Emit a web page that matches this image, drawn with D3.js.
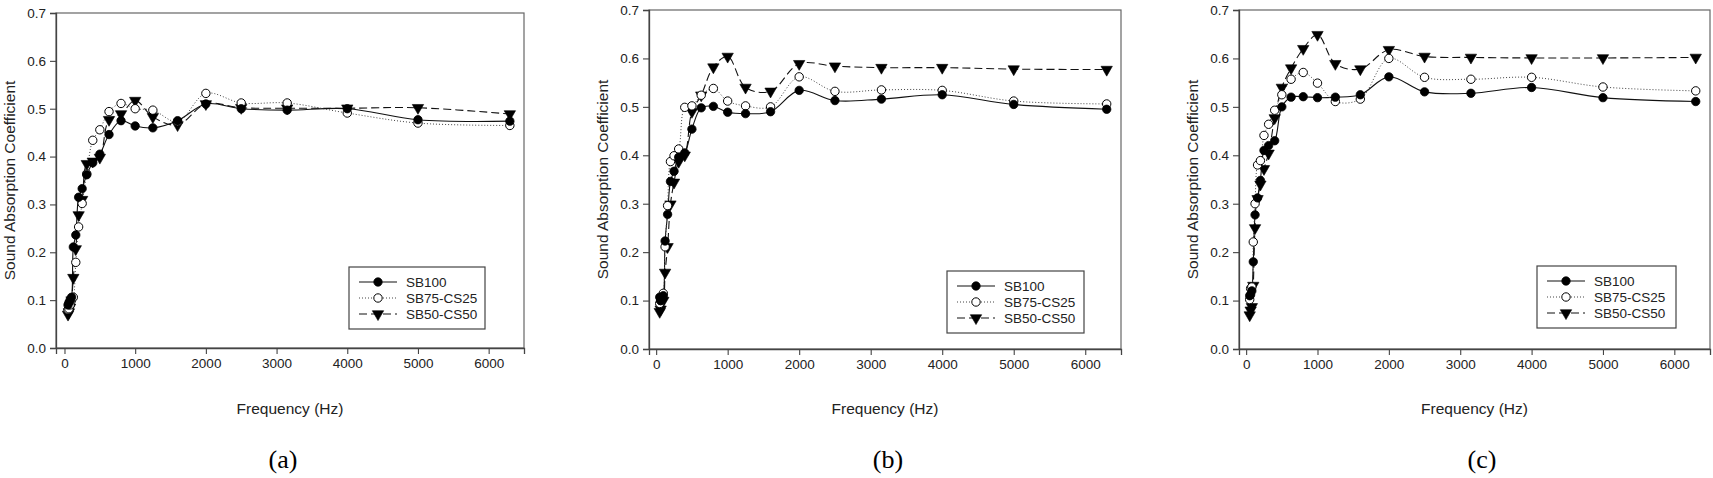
<!DOCTYPE html>
<html>
<head>
<meta charset="utf-8">
<script src="https://cdn.jsdelivr.net/npm/d3@7"></script>
<style>
  html, body { margin: 0; padding: 0; background: #fff; }
  svg { display: block; }
</style>
</head>
<body>
<svg id="chart" width="1713" height="478"></svg>
<script>
// ---------- DATA ----------
const freqs = [50, 63, 80, 100, 125, 160, 200, 250, 315, 400, 500, 630, 800, 1000, 1250, 1600, 2000, 2500, 3150, 4000, 5000, 6300];
const seriesNames = ["SB100", "SB75-CS25", "SB50-CS50"];
const panelLabels = ["(a)", "(b)", "(c)"];
const xTicks = [0, 1000, 2000, 3000, 4000, 5000, 6000];
const yTicks = [0.0, 0.1, 0.2, 0.3, 0.4, 0.5, 0.6, 0.7];
const xTitle = "Frequency (Hz)";
const yTitle = "Sound Absorption Coefficient";

// panel (a)
const a_SB100 = [0.090, 0.095, 0.100, 0.106, 0.211, 0.236, 0.315, 0.333, 0.362, 0.387, 0.405, 0.446, 0.475, 0.464, 0.460, 0.475, 0.510, 0.500, 0.497, 0.500, 0.477, 0.474];
const a_SB75  = [0.080, 0.082, 0.090, 0.100, 0.106, 0.179, 0.253, 0.302, 0.364, 0.434, 0.456, 0.494, 0.511, 0.500, 0.497, 0.473, 0.532, 0.512, 0.512, 0.491, 0.470, 0.465];
const a_SB50  = [0.070, 0.075, 0.085, 0.100, 0.147, 0.207, 0.278, 0.310, 0.385, 0.390, 0.398, 0.477, 0.489, 0.517, 0.483, 0.466, 0.510, 0.502, 0.501, 0.501, 0.502, 0.489];
// panel (b)
const b_SB100 = [0.107, 0.100, 0.105, 0.110, 0.223, 0.278, 0.346, 0.367, 0.396, 0.405, 0.454, 0.498, 0.501, 0.489, 0.486, 0.490, 0.534, 0.513, 0.516, 0.525, 0.505, 0.495];
const b_SB75  = [0.094, 0.100, 0.108, 0.115, 0.211, 0.296, 0.387, 0.399, 0.413, 0.499, 0.502, 0.524, 0.538, 0.512, 0.502, 0.500, 0.562, 0.532, 0.535, 0.534, 0.512, 0.506];
const b_SB50  = [0.077, 0.082, 0.098, 0.100, 0.158, 0.211, 0.299, 0.344, 0.387, 0.400, 0.490, 0.524, 0.582, 0.604, 0.540, 0.532, 0.589, 0.584, 0.581, 0.581, 0.578, 0.577];
// panel (c)
const c_SB100 = [0.110, 0.112, 0.120, 0.180, 0.277, 0.312, 0.348, 0.410, 0.420, 0.430, 0.500, 0.520, 0.521, 0.519, 0.520, 0.525, 0.562, 0.531, 0.528, 0.540, 0.519, 0.511];
const c_SB75  = [0.102, 0.125, 0.128, 0.221, 0.300, 0.380, 0.389, 0.441, 0.464, 0.493, 0.525, 0.557, 0.571, 0.549, 0.511, 0.516, 0.600, 0.561, 0.557, 0.561, 0.541, 0.533];
const c_SB50  = [0.070, 0.080, 0.087, 0.131, 0.250, 0.310, 0.340, 0.372, 0.404, 0.477, 0.540, 0.580, 0.620, 0.649, 0.589, 0.578, 0.618, 0.604, 0.602, 0.601, 0.601, 0.602];

// ---------- LAYOUT ----------
const panels = [
  { x0: 56,   x1: 524,  y0: 13, y1: 348, xmin: -120, lg: { x: 349,  y: 267, w: 136, h: 62 }, labelX: 283,  series: [a_SB100, a_SB75, a_SB50] },
  { x0: 649,  x1: 1121, y0: 10, y1: 349, xmin: -100, lg: { x: 947,  y: 271, w: 137, h: 62 }, labelX: 888,  series: [b_SB100, b_SB75, b_SB50] },
  { x0: 1239, x1: 1710, y0: 10, y1: 349, xmin: -100, lg: { x: 1537, y: 266, w: 139, h: 62 }, labelX: 1482, series: [c_SB100, c_SB75, c_SB50] }
];

const styles = [
  { dash: null,  stroke: "#111", width: 1.1, marker: "fcircle" },
  { dash: "1,2", stroke: "#444", width: 1.0, marker: "ocircle" },
  { dash: "8,4", stroke: "#111", width: 1.1, marker: "tri" }
];

const FONT = "'Liberation Sans', Arial, Helvetica, sans-serif";
const svg = d3.select("#chart");

function drawMarker(g, type, cx, cy) {
  if (type === "fcircle") {
    g.append("circle").attr("cx", cx).attr("cy", cy).attr("r", 4.2)
      .attr("fill", "#000").attr("stroke", "#000").attr("stroke-width", 0.8);
  } else if (type === "ocircle") {
    g.append("circle").attr("cx", cx).attr("cy", cy).attr("r", 4.2)
      .attr("fill", "#fff").attr("stroke", "#000").attr("stroke-width", 1);
  } else {
    const sym = d3.symbol().type(d3.symbolTriangle).size(56);
    g.append("path").attr("d", sym())
      .attr("transform", `translate(${cx},${cy}) rotate(180)`)
      .attr("fill", "#000").attr("stroke", "#000").attr("stroke-width", 0.6);
  }
}

panels.forEach((p, pi) => {
  const x = d3.scaleLinear().domain([p.xmin, 6500]).range([p.x0, p.x1]);
  const y = d3.scaleLinear().domain([0, 0.7]).range([p.y1, p.y0]);
  const g = svg.append("g");

  // frame (top & right)
  g.append("rect").attr("x", p.x0).attr("y", p.y0)
    .attr("width", p.x1 - p.x0).attr("height", p.y1 - p.y0)
    .attr("fill", "none").attr("stroke", "#666").attr("stroke-width", 1.2);

  // axes
  const xAxis = d3.axisBottom(x).tickValues(xTicks).tickSize(6).tickPadding(4).tickFormat(d3.format("d"));
  const yAxis = d3.axisLeft(y).tickValues(yTicks).tickSize(6).tickPadding(4).tickFormat(d3.format(".1f"));
  const gx = g.append("g").attr("transform", `translate(0,${p.y1})`).call(xAxis);
  const gy = g.append("g").attr("transform", `translate(${p.x0},0)`).call(yAxis);
  [gx, gy].forEach(ax => {
    ax.select(".domain").attr("stroke", "#444").attr("stroke-width", 1.3);
    ax.selectAll(".tick line").attr("stroke", "#444").attr("stroke-width", 1.1);
    ax.selectAll(".tick text").attr("fill", "#222").style("font-family", FONT).style("font-size", "13.5px");
  });

  // axis titles
  g.append("text").attr("x", (p.x0 + p.x1) / 2).attr("y", 414)
    .attr("text-anchor", "middle").attr("fill", "#222")
    .style("font-family", FONT).style("font-size", "15.5px").text(xTitle);
  g.append("text")
    .attr("transform", `translate(${p.x0 - 41},${(p.y0 + p.y1) / 2}) rotate(-90)`)
    .attr("text-anchor", "middle").attr("fill", "#222")
    .style("font-family", FONT).style("font-size", "15.5px").text(yTitle);

  // series lines
  const line = d3.line()
    .x((d, i) => x(freqs[i])).y(d => y(d))
    .curve(d3.curveCatmullRom.alpha(0.5));
  p.series.forEach((vals, si) => {
    const st = styles[si];
    g.append("path").datum(vals).attr("d", line)
      .attr("fill", "none").attr("stroke", st.stroke).attr("stroke-width", st.width)
      .attr("stroke-dasharray", st.dash);
  });
  // markers
  [2, 1, 0].forEach(si => {
    const mg = g.append("g");
    p.series[si].forEach((v, i) => drawMarker(mg, styles[si].marker, x(freqs[i]), y(v)));
  });

  // legend
  const lg = g.append("g");
  lg.append("rect").attr("x", p.lg.x).attr("y", p.lg.y).attr("width", p.lg.w).attr("height", p.lg.h)
    .attr("fill", "#fff").attr("stroke", "#444").attr("stroke-width", 1.2);
  seriesNames.forEach((name, si) => {
    const cy = p.lg.y + 15 + si * 16;
    const st = styles[si];
    lg.append("line").attr("x1", p.lg.x + 10).attr("x2", p.lg.x + 48).attr("y1", cy).attr("y2", cy)
      .attr("stroke", st.stroke).attr("stroke-width", st.width).attr("stroke-dasharray", st.dash);
    drawMarker(lg, st.marker, p.lg.x + 29, cy);
    lg.append("text").attr("x", p.lg.x + 57).attr("y", cy).attr("dy", "0.35em")
      .attr("fill", "#222").style("font-family", FONT).style("font-size", "13.5px").text(name);
  });

  // panel label
  g.append("text").attr("x", p.labelX).attr("y", 468).attr("text-anchor", "middle")
    .attr("fill", "#000").style("font-family", "'Liberation Serif', 'Times New Roman', serif")
    .style("font-size", "26px").text(panelLabels[pi]);
});
</script>
</body>
</html>
